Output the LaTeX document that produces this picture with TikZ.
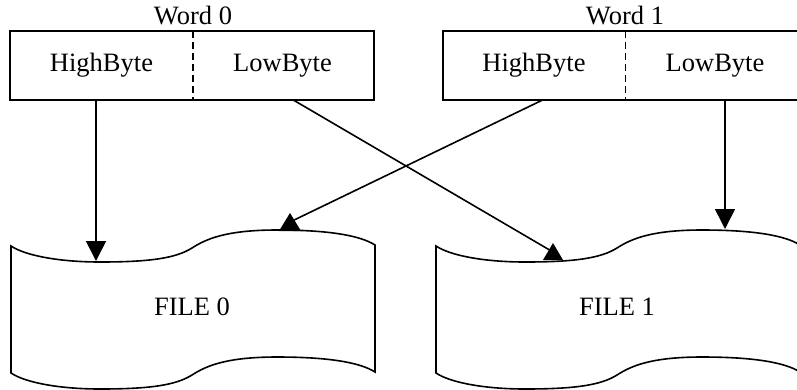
\documentclass[tikz,border=0pt]{standalone}
\usepackage{fontspec}
\setmainfont{Liberation Serif}
\usetikzlibrary{arrows.meta}
\begin{document}
\begin{tikzpicture}[x=1pt,y=-1pt,line width=1.6pt,
  lbl/.style={font=\fontsize{26.5}{30}\selectfont, inner sep=0pt},
  cell/.style={lbl, minimum width=181pt, minimum height=67pt},
  tip/.style={-{Triangle[length=20pt,width=20pt]}},
  divider/.style={dash pattern=on 7pt off 4pt},
  uptri/.style={fill=black},
  pics/tape/.style={code={
    \draw (0,0) .. controls (15,10) and (50,16) .. (89,16)
      .. controls (140,16) and (165,12) .. (181,2)
      .. controls (195,-7) and (215,-16) .. (266,-16)
      .. controls (320,-16) and (350,-10) .. (364,-1)
      -- (364,126)
      .. controls (350,117) and (320,111) .. (266,111)
      .. controls (215,111) and (195,120) .. (181,129)
      .. controls (165,139) and (140,143) .. (89,143)
      .. controls (50,143) and (15,137) .. (0,127) -- cycle;
  }}]
\useasboundingbox (0,0) rectangle (797,389);
\clip (0,0) rectangle (797,389);

% words
\node[cell] (hb0) at (101.5,65.5) {HighByte};
\node[cell] (lb0) at (282.5,65.5) {LowByte};
\node[cell] (hb1) at (534,65.5) {HighByte};
\node[cell] (lb1) at (715,65.5) {LowByte};
\draw (hb0.north west) rectangle (lb0.south east);
\draw[divider] (hb0.north east) -- (hb0.south east);
\draw (hb1.north west) rectangle (lb1.south east);
\draw[divider] (hb1.north east) -- (hb1.south east);
\node[lbl] (w0) at (193,16) {Word 0};
\node[lbl] (w1) at (625,16) {Word 1};

% files
\pic at (11,246) {tape};
\pic at (436,246) {tape};
\node[lbl] (f0) at (192,307) {FILE 0};
\node[lbl] (f1) at (617,307) {FILE 1};

% connectors
\coordinate (e0) at (96,261);
\coordinate (e3) at (725,229);
\coordinate (e1) at (553,252);
\coordinate (e2) at (290,222);
\draw[tip] (e0 |- hb0.south) -- (e0);
\draw[tip] (e3 |- lb1.south) -- (e3);
\draw ([xshift=10.5pt]lb0.south) -- (e1);
\draw ([xshift=9pt]hb1.south) -- (e2);
\fill[uptri] (e1) ++(0,-9) -- ++(10,17) -- ++(-20,0) -- cycle;
\fill[uptri] (e2) ++(0,-9) -- ++(11,18) -- ++(-22,0) -- cycle;
\end{tikzpicture}
\end{document}
